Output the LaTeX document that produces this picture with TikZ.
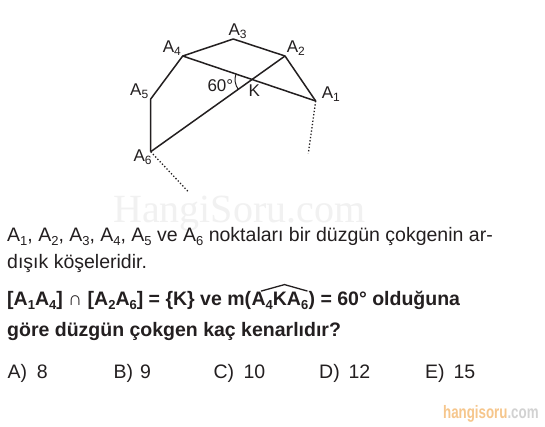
\documentclass[tikz,border=0pt]{standalone}
\usepackage{fontspec}
\setmainfont{Liberation Sans}
\newfontfamily\wmserif{Liberation Serif}
\usetikzlibrary{calc,angles}
\definecolor{ink}{HTML}{231F20}
\definecolor{wmorange}{HTML}{F6C68C}
\definecolor{wmgray}{HTML}{D2D2D2}
\definecolor{wmlight}{HTML}{F1F1F1}
\newcommand\Sb[1]{\raisebox{-3.5pt}{\fontsize{13}{13}\selectfont #1}}
\newcommand\Sd[1]{\raisebox{-3pt}{\fontsize{12}{12}\selectfont #1}}
\begin{document}
\begin{tikzpicture}[x=1pt,y=-1pt,
  txt/.style={font=\fontsize{19.5}{24}\selectfont, text=ink, inner sep=0pt, anchor=base west},
  btxt/.style={txt, font=\fontsize{19.5}{24}\selectfont\bfseries},
  lbl/.style={font=\fontsize{17}{19}\selectfont, text=ink, inner sep=0pt, anchor=base west},
  edge/.style={draw=ink, line width=1.5pt, line join=round},
  dots/.style={draw=ink, line width=1.3pt, dotted}]
\fill[white] (0,0) rectangle (545,426);
\useasboundingbox (0,0) rectangle (545,426);
% watermark
\node[font=\fontsize{40}{44}\selectfont\wmserif, text=wmlight, inner sep=0pt, anchor=base west] (wm) at (113,222) {HangiSoru.com};
% polygon vertices
\coordinate (A1) at (315.7,101);
\coordinate (A2) at (285,56);
\coordinate (A3) at (233.3,39);
\coordinate (A4) at (182.7,56);
\coordinate (A5) at (150.7,99);
\coordinate (A6) at (150.7,151.7);
\coordinate (E1) at (308.3,153.3);
\coordinate (E6) at (188.3,191.7);
\coordinate (K) at (intersection of A1--A4 and A2--A6);
\draw[edge] (A1) -- (A2) -- (A3) -- (A4) -- (A5) -- (A6);
\draw[edge] (A1) -- (A4);
\draw[edge] (A2) -- (A6);
\draw[dots] (A1) -- (E1);
\draw[dots] (A6) -- (E6);
\pic[draw=ink, line width=1pt, angle radius=17pt] {angle=A4--K--A6};
% labels
\node[lbl] (lA1) at (321.7,98.3) {A\Sd{1}};
\node[lbl] (lA2) at (286.7,52.3) {A\Sd{2}};
\node[lbl] (lA3) at (228.3,35.7) {A\Sd{3}};
\node[lbl] (lA4) at (162.7,52.3) {A\Sd{4}};
\node[lbl] (lA5) at (130,95) {A\Sd{5}};
\node[lbl] (lA6) at (133.3,161.7) {A\Sd{6}};
\node[lbl] (lK) at (248.3,96.7) {K};
\node[lbl] (l60) at (207.3,91) {60°};
% text
\node[txt] (t1) at (7,241.7) {A\Sb{1}, A\Sb{2}, A\Sb{3}, A\Sb{4}, A\Sb{5} ve A\Sb{6} noktaları bir düzgün çokgenin ar-};
\node[txt] (t2) at (7,268.3) {dışık köşeleridir.};
\node[btxt] (t3a) at (7,305.7) {[A\Sb{1}A\Sb{4}] ∩ [A\Sb{2}A\Sb{6}] = \{K\} ve m(};
\node[btxt] (t3b) at (t3a.base east) {A\Sb{4}KA\Sb{6}};
\node[btxt] (t3c) at (t3b.base east) {) = 60° olduğuna};
\draw[ink, line width=1.3pt, line join=round]
  ($(t3b.north west)!0.17!(t3b.north east)+(0,-1)$) --
  ($(t3b.north west)!0.58!(t3b.north east)+(0,-7.5)$) --
  ($(t3b.north east)+(-1,-1)$);
\node[btxt] (t4) at (7,336.5) {göre düzgün çokgen kaç kenarlıdır?};
% answers
\node[txt] (oA) at (7.3,378.3) {A)};
\node[txt] (vA) at (36.7,378.3) {8};
\node[txt] (oB) at (113.3,378.3) {B)};
\node[txt] (vB) at (140,378.3) {9};
\node[txt] (oC) at (213.3,378.3) {C)};
\node[txt] (vC) at (243.3,378.3) {10};
\node[txt] (oD) at (319,378.3) {D)};
\node[txt] (vD) at (348.3,378.3) {12};
\node[txt] (oE) at (425,378.3) {E)};
\node[txt] (vE) at (453.3,378.3) {15};
% footer watermark
\node[font=\fontsize{18}{20}\selectfont\bfseries, inner sep=0pt, anchor=base west, xscale=0.74, transform shape] (wm2) at (443,418.5) {\textcolor{wmorange}{hangisoru}\textcolor{wmgray}{.com}};
\end{tikzpicture}
\end{document}
